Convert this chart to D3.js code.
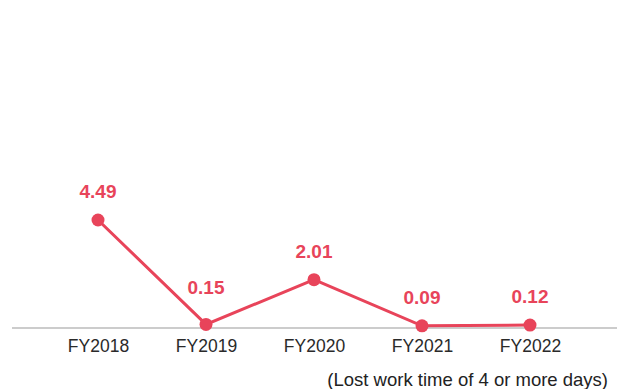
<!DOCTYPE html>
<html>
<head>
<meta charset="utf-8">
<script src="https://cdn.jsdelivr.net/npm/d3@7"></script>
<style>
  html, body { margin: 0; padding: 0; background: #fff; }
  svg { display: block; }
</style>
</head>
<body>
<svg id="chart" width="625" height="389"></svg>
<script>
// Lost-time injury frequency rate by fiscal year
const years = ["FY2018", "FY2019", "FY2020", "FY2021", "FY2022"];
const rates = [4.49, 0.15, 2.01, 0.09, 0.12];
const rateLabels = ["4.49", "0.15", "2.01", "0.09", "0.12"];
const note = "(Lost work time of 4 or more days)";

// Extra lift for individual value labels (layout only)
const labelLift = [0, 8, 0, 0, 0];

const W = 625, H = 389;
const baseY = 328;
const red = "#e8445a";

const svg = d3.select("#chart");

const x = d3.scalePoint()
  .domain(years)
  .range([98, 530]);

const y = d3.scaleLinear()
  .domain([0, 4.49])
  .range([baseY, 220]);

// Baseline
svg.append("line")
  .attr("x1", 12).attr("x2", 617)
  .attr("y1", baseY).attr("y2", baseY)
  .attr("stroke", "#9a9a9a")
  .attr("stroke-width", 1.2);

// Category axis labels
const xAxis = d3.axisBottom(x).tickSize(0).tickPadding(12);
const gx = svg.append("g")
  .attr("transform", `translate(0,${baseY})`)
  .call(xAxis);
gx.select(".domain").remove();
gx.selectAll("text")
  .attr("font-family", "'Liberation Sans', Arial, sans-serif")
  .attr("font-size", 17.5)
  .attr("fill", "#2a2a2a");

const data = years.map((yr, i) => ({ yr, v: rates[i], label: rateLabels[i], lift: labelLift[i] }));

// Trend line
svg.append("path")
  .datum(data)
  .attr("fill", "none")
  .attr("stroke", red)
  .attr("stroke-width", 3)
  .attr("d", d3.line().x(d => x(d.yr)).y(d => y(d.v)));

// Markers
svg.selectAll("circle.pt")
  .data(data)
  .join("circle")
  .attr("class", "pt")
  .attr("cx", d => x(d.yr))
  .attr("cy", d => y(d.v))
  .attr("r", 6.5)
  .attr("fill", red);

// Value labels
svg.selectAll("text.val")
  .data(data)
  .join("text")
  .attr("class", "val")
  .attr("x", d => x(d.yr))
  .attr("y", d => y(d.v) - 22 - d.lift)
  .attr("text-anchor", "middle")
  .attr("font-family", "'Liberation Sans', Arial, sans-serif")
  .attr("font-weight", "bold")
  .attr("font-size", 19)
  .attr("fill", red)
  .text(d => d.label);

// Footnote
svg.append("text")
  .attr("x", 608)
  .attr("y", 386)
  .attr("text-anchor", "end")
  .attr("font-family", "'Liberation Sans', Arial, sans-serif")
  .attr("font-size", 18.5)
  .attr("fill", "#222")
  .text(note);
</script>
</body>
</html>
